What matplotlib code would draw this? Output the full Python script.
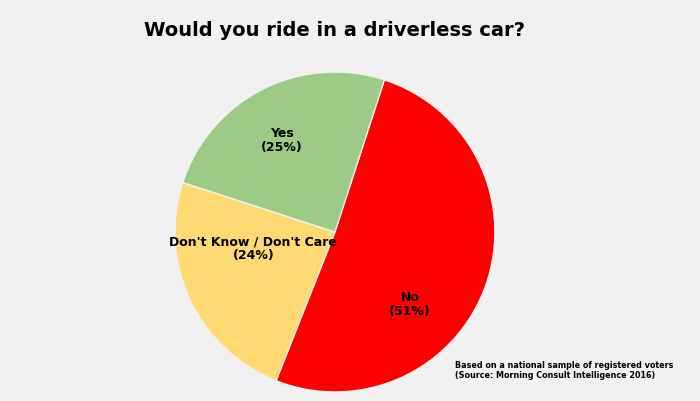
import matplotlib
matplotlib.use("Agg")
from matplotlib import pyplot as plt

labels = ["No", "Don't Know / Don't Care", "Yes"]
values = [51, 24, 25]
colors = ["#FF0000", "#FFDA73", "#9CCB86"]
# label anchors inside each wedge (pie radius units)
label_x = [0.47, -0.51, -0.33]
label_y = [-0.45, -0.10, 0.58]

plt.rcParams['font.family'] = ['DejaVu Sans']

fig = plt.figure(figsize=(7, 4.02), dpi=100)
fig.patch.set_facecolor("#F1F1F1")
ax = fig.add_axes([0.25, 0.0224, 0.457, 0.796])
wedges, _ = ax.pie(values, colors=colors, startangle=72, counterclock=False,
                   wedgeprops=dict(edgecolor="#F1F1F1", linewidth=1))
for lab, v, x, y in zip(labels, values, label_x, label_y):
    ax.text(x, y, f"{lab}\n({v}%)", ha="center", va="center",
            fontsize=9, fontweight="bold", linespacing=1.1)
ax.set_xlim(-1, 1)
ax.set_ylim(-1, 1)

fig.text(0.478, 0.925, "Would you ride in a driverless car?", ha="center", va="center",
         fontsize=14, fontweight="bold")
fig.text(0.65, 0.078, "Based on a national sample of registered voters\n(Source: Morning Consult Intelligence 2016)",
         ha="left", va="center", fontsize=5.8, fontweight="bold", linespacing=1.2)
fig.savefig("out.png", dpi=100, facecolor=fig.get_facecolor())
